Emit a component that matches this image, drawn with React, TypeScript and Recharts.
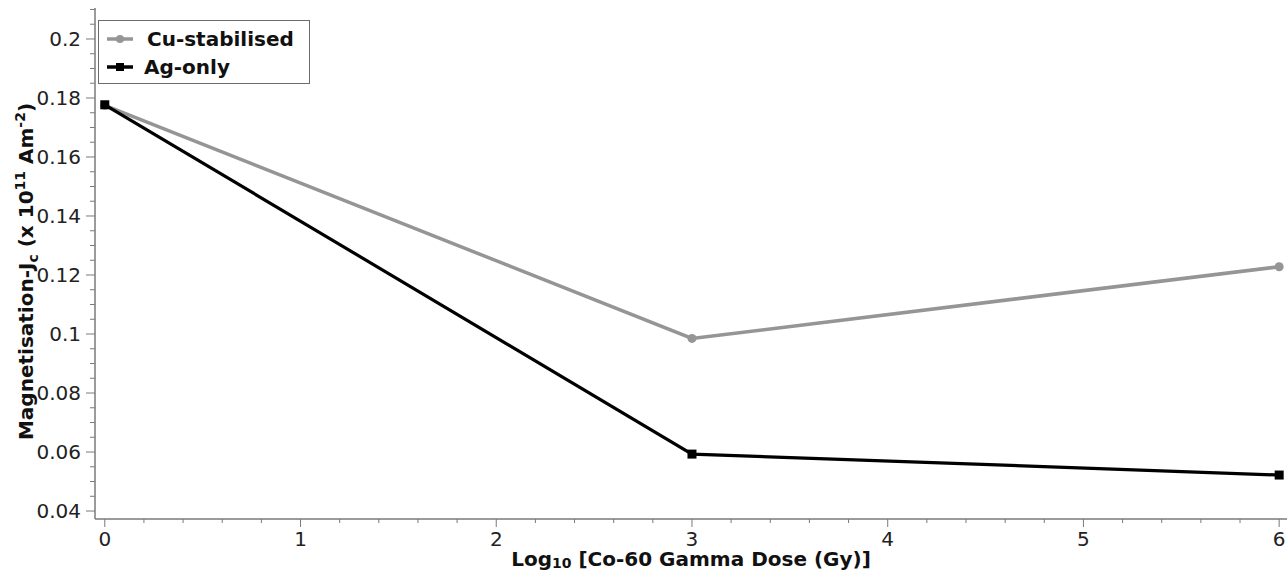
import React from "react";
import { LineChart, Line, XAxis, YAxis } from "recharts";

const doses = [0, 3, 6];
const cuStabilised = [0.1775, 0.0985, 0.1228];
const agOnly = [0.1777, 0.0593, 0.0522];

const xMajorTicks = [0, 1, 2, 3, 4, 5, 6];
const xAllTicks = Array.from({ length: 31 }, (_, i) => +(i * 0.2).toFixed(1));
const yMajorTicks = [0.04, 0.06, 0.08, 0.1, 0.12, 0.14, 0.16, 0.18, 0.2];
const yAllTicks = Array.from({ length: 35 }, (_, i) => +(0.04 + i * 0.005).toFixed(3));

const data = doses.map((d, i) => ({ x: d, cu: cuStabilised[i], ag: agOnly[i] }));

const FONT = "'DejaVu Sans', Verdana, sans-serif";
const AXIS = "#7a7a7a";
const GRAY = "#959595";

const isMajor = (arr: number[], v: number) => arr.some((m) => Math.abs(m - v) < 1e-9);

const XTick = (props: any) => {
  const { x, y, payload } = props;
  const major = isMajor(xMajorTicks, payload.value);
  return (
    <g>
      <line x1={x} x2={x} y1={y} y2={y + (major ? 8 : 4)} stroke={AXIS} strokeWidth={1} />
      {major && (
        <text x={x} y={y + 27} textAnchor="middle" fontFamily={FONT} fontSize={20} fill="#222">
          {String(payload.value)}
        </text>
      )}
    </g>
  );
};

const YTick = (props: any) => {
  const { x, y, payload } = props;
  const major = isMajor(yMajorTicks, payload.value);
  return (
    <g>
      <line x1={x - (major ? 9 : 5)} x2={x} y1={y} y2={y} stroke={AXIS} strokeWidth={1} />
      {major && (
        <text x={x - 14} y={y + 7} textAnchor="end" fontFamily={FONT} fontSize={20} fill="#222">
          {String(payload.value)}
        </text>
      )}
    </g>
  );
};

const YTitle = (props: any) => {
  const vb = props.viewBox || { x: 0, y: 8, width: 95, height: 511 };
  const cx = 33;
  const cy = vb.y + vb.height / 2 + 8;
  return (
    <text
      x={cx}
      y={cy}
      transform={`rotate(-90, ${cx}, ${cy})`}
      textAnchor="middle"
      fontFamily={FONT}
      fontSize={20}
      fontWeight="bold"
      fill="#111"
    >
      <tspan>Magnetisation-J</tspan>
      <tspan fontSize={14} dy={5}>c</tspan>
      <tspan dy={-5}> (x 10</tspan>
      <tspan fontSize={14} dy={-8}>11</tspan>
      <tspan dy={8}> Am</tspan>
      <tspan fontSize={14} dy={-8}>-2</tspan>
      <tspan dy={8}>)</tspan>
    </text>
  );
};

const XTitle = (props: any) => {
  const vb = props.viewBox || { x: 95, y: 519, width: 1192, height: 58 };
  const cx = vb.x + vb.width / 2;
  const cy = 566;
  return (
    <text x={cx} y={cy} textAnchor="middle" fontFamily={FONT} fontSize={20} fontWeight="bold" fill="#111">
      <tspan>Log</tspan>
      <tspan fontSize={14} dy={2}>10</tspan>
      <tspan dy={-2}> [Co-60 Gamma Dose (Gy)]</tspan>
    </text>
  );
};

const LegendBox = () => (
  <svg width={213} height={65} style={{ display: "block" }}>
    <rect x={0.5} y={0.5} width={211} height={63} fill="#fff" stroke="#6b6b6b" strokeWidth={1} />
    <line x1={9} x2={35} y1={19} y2={19} stroke={GRAY} strokeWidth={3.5} />
    <circle cx={22} cy={19} r={4} fill={GRAY} />
    <text x={49} y={26} fontFamily={FONT} fontSize={20} fontWeight="bold" fill="#111">
      Cu-stabilised
    </text>
    <line x1={9} x2={35} y1={47} y2={47} stroke="#000" strokeWidth={3.5} />
    <rect x={18} y={43} width={8} height={8} fill="#000" />
    <text x={46} y={54} fontFamily={FONT} fontSize={20} fontWeight="bold" fill="#111">
      Ag-only
    </text>
  </svg>
);

const SquareDot = (props: any) => {
  const { cx, cy, index } = props;
  if (cx == null || cy == null) return <g key={`sq-${index}`} />;
  return <rect key={`sq-${index}`} x={cx - 4.5} y={cy - 4.5} width={9} height={9} fill="#000" />;
};

const CircleDot = (props: any) => {
  const { cx, cy, index } = props;
  if (cx == null || cy == null) return <g key={`ci-${index}`} />;
  return <circle key={`ci-${index}`} cx={cx} cy={cy} r={4.5} fill={GRAY} />;
};

export default function App() {
  return (
    <div
      style={{
        position: "absolute",
        left: 0,
        top: 0,
        width: 1288,
        height: 577,
        overflow: "hidden",
        background: "#fff",
      }}
    >
      <LineChart
        width={1288}
        height={577}
        data={data}
        margin={{ top: 8, right: 1, left: 0, bottom: 0 }}
      >
        <XAxis
          dataKey="x"
          type="number"
          domain={[-0.05, 6.04]}
          ticks={xAllTicks}
          interval={0}
          allowDataOverflow
          height={58}
          tickSize={0}
          tickMargin={0}
          tickLine={false}
          axisLine={{ stroke: AXIS, strokeWidth: 1.5 }}
          tick={<XTick />}
          label={{ content: (p: any) => <XTitle {...p} /> }}
        />
        <YAxis
          type="number"
          domain={[0.0373, 0.2105]}
          ticks={yAllTicks}
          interval={0}
          allowDataOverflow
          width={95}
          tickSize={0}
          tickMargin={0}
          tickLine={false}
          axisLine={{ stroke: AXIS, strokeWidth: 1.5 }}
          tick={<YTick />}
          label={{ content: (p: any) => <YTitle {...p} /> }}
        />
        <Line
          dataKey="cu"
          name="Cu-stabilised"
          stroke={GRAY}
          strokeWidth={3.5}
          dot={<CircleDot />}
          activeDot={false}
          isAnimationActive={false}
        />
        <Line
          dataKey="ag"
          name="Ag-only"
          stroke="#000"
          strokeWidth={3.2}
          dot={<SquareDot />}
          activeDot={false}
          isAnimationActive={false}
        />
      </LineChart>
      <div style={{ position: "absolute", left: 98, top: 20 }}>
        <LegendBox />
      </div>
    </div>
  );
}
